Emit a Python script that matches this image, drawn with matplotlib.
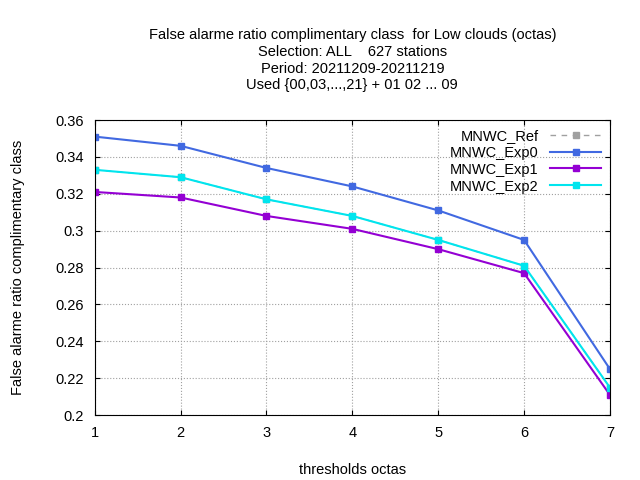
import matplotlib
matplotlib.use('Agg')
import matplotlib.pyplot as plt

thresholds = [1, 2, 3, 4, 5, 6, 7]
ref = [0.333, 0.329, 0.317, 0.308, 0.295, 0.281, 0.215]
exp0 = [0.351, 0.346, 0.334, 0.324, 0.311, 0.295, 0.225]
exp1 = [0.321, 0.318, 0.308, 0.301, 0.290, 0.277, 0.211]
exp2 = [0.333, 0.329, 0.317, 0.308, 0.295, 0.281, 0.215]

plt.rcParams['font.family'] = ['Liberation Sans', 'DejaVu Sans']
fig = plt.figure(figsize=(6.4, 4.8), dpi=100)
ax = fig.add_axes([0.148, 0.135, 0.805, 0.615])

ax.plot(thresholds, ref, color='#a0a0a0', ls=(0, (4, 4)), marker='s', ms=4, lw=1, label='MNWC_Ref')
ax.plot(thresholds, exp0, color='#4169e1', marker='s', ms=4, lw=1.5, label='MNWC_Exp0')
ax.plot(thresholds, exp1, color='#9400d3', marker='s', ms=4, lw=1.5, label='MNWC_Exp1')
ax.plot(thresholds, exp2, color='#00e5ee', marker='s', ms=4, lw=1.5, label='MNWC_Exp2')

ax.set_xlim(1, 7)
ax.set_ylim(0.2, 0.36)
ax.set_xticks(thresholds)
ax.set_yticks([0.2, 0.22, 0.24, 0.26, 0.28, 0.3, 0.32, 0.34, 0.36])
ax.set_yticklabels(['0.2', '0.22', '0.24', '0.26', '0.28', '0.3', '0.32', '0.34', '0.36'])
ax.grid(True, color='#a0a0a0', ls=':', lw=0.8)
ax.tick_params(direction='in', top=True, right=True, labelsize=10.5, pad=8)
ax.set_xlabel('thresholds octas', fontsize=10.5, labelpad=16)
ax.set_ylabel('False alarme ratio complimentary class', fontsize=10.5, labelpad=22)
ax.set_title('False alarme ratio complimentary class  for Low clouds (octas)\n'
             'Selection: ALL    627 stations\nPeriod: 20211209-20211219\n'
             'Used {00,03,...,21} + 01 02 ... 09', fontsize=10.5, linespacing=1.25, pad=22)
leg = ax.legend(loc='upper right', frameon=False, markerfirst=False, fontsize=10.5,
                handlelength=3.5, borderaxespad=0.2, labelspacing=0.2)
for t in leg.get_texts():
    t.set_ha('right')
fig.savefig('out.png', dpi=100)
